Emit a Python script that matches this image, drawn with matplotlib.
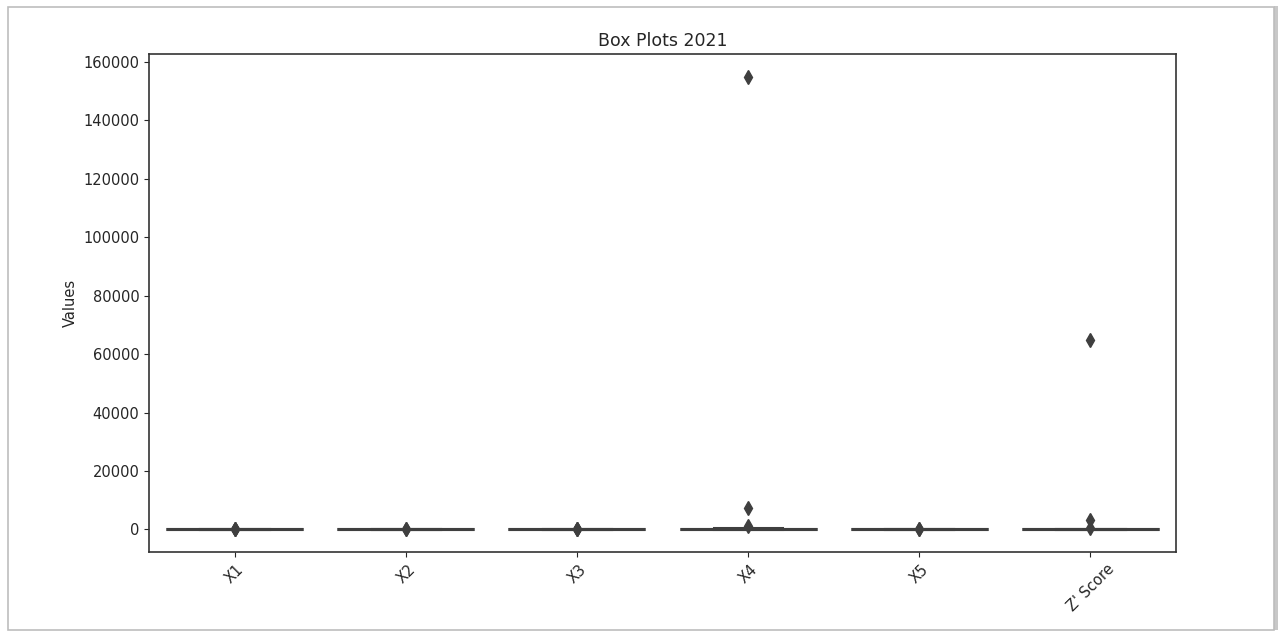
import matplotlib.pyplot as plt
from matplotlib.patches import Rectangle
import numpy as np

# Altman ratio components and Z' score, year 2021
labels = ['X1', 'X2', 'X3', 'X4', 'X5', "Z' Score"]

x1 = [0.12, 0.25, -0.08, 0.31, 0.05, 0.18, -0.42, 0.22, 0.09, 0.15, 0.64, -1.35, 0.28, 0.11, 0.02]
x2 = [0.05, -0.21, 0.14, 0.33, -0.65, 0.08, 0.19, 0.02, -1.10, 0.26, 0.11, 0.44, -0.03, 0.07, 0.16]
x3 = [0.04, 0.09, -0.02, 0.13, 0.06, -0.15, 0.21, 0.03, 0.08, -0.48, 0.11, 0.35, 0.01, 0.05, 0.07]
x4 = [0.8, 1.6, 2.3, 0.5, 3.9, 1.1, 12.4, 0.3, 48.0, 310.0, 1250.0, 155000.0, 7200.0, 2.7, 0.9]
x5 = [0.62, 1.05, 0.38, 0.91, 1.47, 0.15, 2.85, 0.74, 0.03, 1.22, 3.60, 0.55, 0.86, 1.10, 0.47]
z_score = [1.9, 2.7, 3.4, 1.2, 4.8, 2.2, 18.5, 0.6, 95.0, 420.0, 3100.0, 65000.0, 5.6, 2.9, 1.5]

data = [x1, x2, x3, x4, x5, z_score]

plt.rcParams['text.color'] = '#262626'
plt.rcParams['axes.labelcolor'] = '#262626'
plt.rcParams['xtick.color'] = '#262626'
plt.rcParams['ytick.color'] = '#262626'

fig = plt.figure(figsize=(12.84, 6.34), dpi=100)
ax = fig.add_axes([149 / 1284, 1 - 552 / 634, (1176 - 149) / 1284, (552 - 54) / 634])

gray = '#3f3f3f'
lw = 2.2
bp = ax.boxplot(data, positions=np.arange(len(data)), widths=0.8, patch_artist=True,
                boxprops=dict(facecolor='#6f8fb0', edgecolor=gray, linewidth=lw),
                medianprops=dict(color=gray, linewidth=lw),
                whiskerprops=dict(color=gray, linewidth=lw),
                capprops=dict(color=gray, linewidth=lw),
                flierprops=dict(marker='d', markerfacecolor=gray, markeredgecolor=gray,
                                markersize=7, linestyle='none'))

ax.set_xlim(-0.5, len(data) - 0.5)
ax.set_xticks(np.arange(len(data)))
ax.set_xticklabels(labels, rotation=45, fontsize=10.5)
ax.set_yticks(np.arange(0, 160001, 20000))
ax.tick_params(axis='y', labelsize=10.5)
ax.set_ylabel('Values', fontsize=10.5)
ax.set_title('Box Plots 2021', fontsize=12.5)
for s in ax.spines.values():
    s.set_color('#333333')
    s.set_linewidth(1.2)

# framed page with a soft shadow on the right
fig.patches.append(Rectangle((1274 / 1284, 4 / 634), 4 / 1284, 624 / 634, transform=fig.transFigure,
                             facecolor='#c8c8c8', edgecolor='none', zorder=-3))
fig.patches.append(Rectangle((8 / 1284, 4 / 634), 1266 / 1284, 623 / 634, transform=fig.transFigure,
                             facecolor='white', edgecolor='#bdbdbd', linewidth=1.2, zorder=-1))

fig.savefig('out.png', dpi=100)
